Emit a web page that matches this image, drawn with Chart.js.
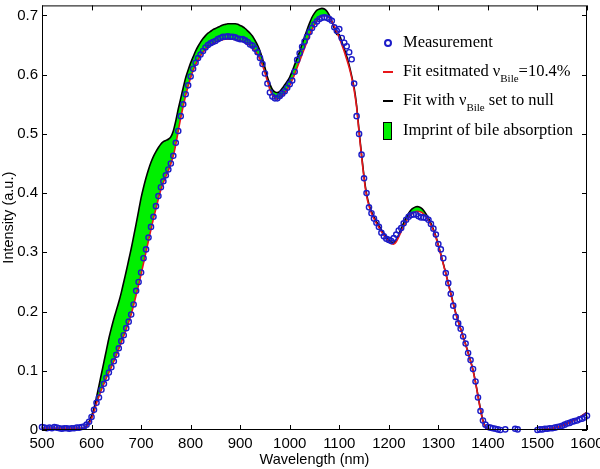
<!DOCTYPE html>
<html><head><meta charset="utf-8">
<script src="https://cdn.jsdelivr.net/npm/chart.js@4"></script>
<style>html,body{margin:0;padding:0;background:#fff}canvas{display:block}</style>
</head><body>
<canvas id="c" width="600" height="469"></canvas>
<script>
// Wavelength grid (nm): 500..1600 every 5 nm (221 samples)
const wavelengthStart = 500;
const wavelengthStep = 5;

// Measured intensity (a.u.), rows of 100 nm
const measurement = [
  0.005,0.004,0.003,0.004,0.003,0.005,0.004,0.003,0.002,0.003,0.003,0.002,0.003,0.003,0.004,0.004,0.005,0.006,0.009,0.014,
  0.022,0.034,0.046,0.055,0.068,0.078,0.088,0.097,0.106,0.116,0.127,0.138,0.150,0.160,0.172,0.183,0.195,0.212,0.235,0.250,
  0.266,0.290,0.305,0.325,0.343,0.360,0.378,0.395,0.410,0.420,0.430,0.440,0.450,0.463,0.485,0.505,0.530,0.550,0.567,0.582,
  0.597,0.610,0.620,0.628,0.634,0.640,0.646,0.650,0.653,0.655,0.657,0.660,0.662,0.664,0.664,0.665,0.664,0.664,0.663,0.661,
  0.660,0.660,0.658,0.655,0.651,0.649,0.644,0.638,0.628,0.618,0.602,0.585,0.570,0.563,0.560,0.560,0.564,0.568,0.572,0.578,
  0.584,0.590,0.605,0.625,0.636,0.647,0.656,0.664,0.672,0.679,0.685,0.690,0.694,0.696,0.697,0.696,0.694,0.691,0.680,0.674,
  0.677,0.662,0.654,0.648,0.638,0.626,0.585,0.530,0.500,0.465,0.425,0.400,0.376,0.366,0.357,0.350,0.343,0.333,0.327,0.323,
  0.321,0.319,0.324,0.330,0.337,0.341,0.349,0.355,0.360,0.363,0.364,0.364,0.361,0.359,0.359,0.358,0.355,0.348,0.340,0.330,
  0.314,0.305,0.290,0.265,0.248,0.230,0.210,0.191,0.180,0.171,0.158,0.146,0.130,0.118,0.103,0.082,0.055,0.032,0.016,0.009,
  0.005,0.004,0.003,0.002,0.001,0.000,null,0.001,null,null,null,0.002,0.001,null,null,null,null,null,null,null,
  0.000,0.001,0.001,0.002,0.002,0.003,0.003,0.004,0.005,0.006,0.007,0.009,0.011,0.012,0.014,0.015,0.016,0.018,0.019,0.021,
  0.024
];

// Fit with estimated bile fraction (red)
const fitEstimated = [
  0.003,0.003,0.003,0.003,0.003,0.003,0.003,0.003,0.003,0.003,0.003,0.003,0.003,0.003,0.003,0.003,0.003,0.003,0.006,0.011,
  0.019,0.031,0.045,0.057,0.068,0.078,0.088,0.097,0.106,0.116,0.126,0.137,0.148,0.159,0.170,0.182,0.195,0.211,0.228,0.245,
  0.263,0.282,0.301,0.320,0.339,0.357,0.374,0.391,0.406,0.418,0.428,0.438,0.449,0.463,0.482,0.505,0.527,0.547,0.565,0.581,
  0.595,0.607,0.617,0.625,0.632,0.638,0.643,0.647,0.650,0.653,0.655,0.657,0.658,0.659,0.660,0.660,0.660,0.660,0.659,0.658,
  0.657,0.656,0.654,0.652,0.649,0.645,0.640,0.634,0.626,0.616,0.603,0.589,0.575,0.566,0.561,0.559,0.560,0.564,0.569,0.575,
  0.582,0.591,0.601,0.612,0.623,0.634,0.645,0.656,0.667,0.676,0.684,0.691,0.696,0.699,0.700,0.699,0.696,0.690,0.682,0.672,
  0.662,0.651,0.639,0.626,0.612,0.595,0.574,0.545,0.502,0.462,0.425,0.396,0.378,0.366,0.357,0.349,0.342,0.335,0.329,0.323,
  0.318,0.315,0.314,0.318,0.326,0.335,0.344,0.352,0.359,0.364,0.367,0.369,0.369,0.368,0.365,0.360,0.354,0.346,0.337,0.325,
  0.311,0.296,0.280,0.264,0.247,0.230,0.213,0.197,0.183,0.170,0.157,0.144,0.130,0.116,0.100,0.080,0.057,0.034,0.015,0.005,
  0.001,0,0,0,0,0,0,0,0,0,0,0,0,0,0,0,0,0,0,0,
  0.000,0.000,0.001,0.001,0.002,0.002,0.003,0.004,0.005,0.006,0.008,0.009,0.011,0.013,0.015,0.017,0.019,0.022,0.024,0.027,
  0.030
];

// Fit with bile fraction set to null (black)
const fitNull = [
  0.003,0.003,0.003,0.003,0.003,0.003,0.003,0.003,0.003,0.003,0.003,0.003,0.003,0.003,0.003,0.003,0.003,0.003,0.008,0.014,
  0.024,0.037,0.055,0.075,0.095,0.115,0.135,0.155,0.172,0.188,0.202,0.216,0.232,0.250,0.268,0.287,0.306,0.327,0.348,0.370,
  0.392,0.410,0.426,0.440,0.452,0.462,0.470,0.477,0.483,0.487,0.489,0.491,0.495,0.505,0.522,0.542,0.560,0.578,0.595,0.608,
  0.620,0.630,0.640,0.648,0.655,0.661,0.666,0.670,0.673,0.676,0.678,0.680,0.682,0.684,0.685,0.686,0.686,0.686,0.686,0.685,
  0.683,0.681,0.678,0.674,0.670,0.665,0.658,0.650,0.640,0.627,0.612,0.596,0.584,0.575,0.571,0.570,0.572,0.577,0.583,0.589,
  0.596,0.606,0.617,0.628,0.639,0.652,0.664,0.676,0.687,0.697,0.704,0.709,0.711,0.712,0.711,0.707,0.700,0.690,0.678,0.668,
  0.668,0.656,0.644,0.631,0.616,0.598,0.578,0.548,0.505,0.465,0.428,0.399,0.381,0.369,0.360,0.352,0.345,0.338,0.332,0.326,
  0.321,0.318,0.317,0.321,0.330,0.340,0.350,0.359,0.366,0.372,0.375,0.377,0.377,0.375,0.371,0.365,0.358,0.349,0.339,0.327,
  0.312,0.297,0.281,0.265,0.248,0.231,0.214,0.198,0.184,0.171,0.158,0.145,0.131,0.117,0.101,0.081,0.058,0.035,0.016,0.006,
  0.001,0,0,0,0,0,0,0,0,0,0,0,0,0,0,0,0,0,0,0,
  0.000,0.000,0.001,0.001,0.002,0.002,0.003,0.004,0.005,0.006,0.008,0.009,0.011,0.013,0.015,0.017,0.019,0.022,0.024,0.027,
  0.030
];

const xTickValues = [500,600,700,800,900,1000,1100,1200,1300,1400,1500,1600];
const yTickValues = [0,0.1,0.2,0.3,0.4,0.5,0.6,0.7];
const xTitle = 'Wavelength (nm)';
const yTitle = 'Intensity (a.u.)';
const legendItems = [
  {parts:[['Measurement','n']]},
  {parts:[['Fit esitmated \u03bd','n'],['Bile','s'],['=10.4%','n']]},
  {parts:[['Fit with \u03bd','n'],['Bile','s'],[' set to null','n']]},
  {parts:[['Imprint of bile absorption','n']]}
];

const wavelengths = measurement.map((_, i) => wavelengthStart + i * wavelengthStep);
const pts = arr => arr.map((v, i) => ({x: wavelengths[i], y: v}));

const BLUE = '#1c1cc8', RED = '#e8161a', GREEN = '#00f000';

const framePlugin = {
  id: 'frame',
  afterDraw(chart) {
    const {ctx, chartArea: a, scales: {x, y}} = chart;
    ctx.save();
    ctx.strokeStyle = '#000';
    ctx.lineWidth = 1;
    ctx.strokeRect(a.left + 0.5, a.top + 0.5, a.right - a.left - 1, a.bottom - a.top - 1);
    const tl = 5;
    ctx.beginPath();
    x.ticks.forEach(t => {
      const px = Math.round(x.getPixelForValue(t.value)) + 0.5;
      ctx.moveTo(px, a.bottom); ctx.lineTo(px, a.bottom - tl);
      ctx.moveTo(px, a.top); ctx.lineTo(px, a.top + tl);
    });
    y.ticks.forEach(t => {
      const py = Math.round(y.getPixelForValue(t.value)) + 0.5;
      ctx.moveTo(a.left, py); ctx.lineTo(a.left + tl, py);
      ctx.moveTo(a.right, py); ctx.lineTo(a.right - tl, py);
    });
    ctx.stroke();

    // legend
    const mainFont = '16.5px "Liberation Serif", "Times New Roman", serif';
    const subFont = '11px "Liberation Serif", "Times New Roman", serif';
    const rowsY = [43, 72, 101, 131];
    const textX = 403;
    ctx.textBaseline = 'middle';
    ctx.textAlign = 'left';
    ctx.fillStyle = '#000';
    legendItems.forEach((item, i) => {
      const yy = rowsY[i];
      let cx = textX;
      item.parts.forEach(([txt, kind]) => {
        if (kind === 's') {
          ctx.font = subFont;
          ctx.fillText(txt, cx, yy + 7);
        } else {
          ctx.font = mainFont;
          ctx.fillText(txt, cx, yy);
        }
        cx += ctx.measureText(txt).width;
      });
    });
    // legend symbols
    ctx.lineWidth = 2;
    ctx.strokeStyle = BLUE;
    ctx.beginPath(); ctx.arc(388, rowsY[0], 3, 0, Math.PI * 2); ctx.stroke();
    ctx.strokeStyle = RED;
    ctx.beginPath(); ctx.moveTo(383, rowsY[1]); ctx.lineTo(393, rowsY[1]); ctx.stroke();
    ctx.strokeStyle = '#000';
    ctx.beginPath(); ctx.moveTo(383, rowsY[2]); ctx.lineTo(393, rowsY[2]); ctx.stroke();
    ctx.fillStyle = GREEN;
    ctx.fillRect(384, rowsY[3] - 8, 7, 16);
    ctx.lineWidth = 1;
    ctx.strokeRect(383.5, rowsY[3] - 8.5, 8, 17);
    ctx.restore();
  }
};

new Chart(document.getElementById('c'), {
  type: 'line',
  data: {
    datasets: [
      {
        label: 'Measurement',
        data: pts(measurement),
        showLine: false,
        pointStyle: 'circle',
        pointRadius: 2.6,
        pointBorderWidth: 1.4,
        pointBorderColor: BLUE,
        pointBackgroundColor: 'rgba(255,255,255,0)',
        borderColor: BLUE,
        order: 0,
        clip: 5
      },
      {
        label: 'Fit esitmated',
        data: pts(fitEstimated),
        borderColor: RED,
        borderWidth: 1.6,
        pointRadius: 0,
        tension: 0.2,
        fill: false,
        order: 1
      },
      {
        label: 'Fit with null',
        data: pts(fitNull),
        borderColor: '#000',
        borderWidth: 1.6,
        pointRadius: 0,
        tension: 0.2,
        fill: {target: 1, above: GREEN, below: GREEN},
        backgroundColor: GREEN,
        order: 2
      }
    ]
  },
  options: {
    responsive: false,
    devicePixelRatio: 1,
    animation: false,
    layout: {padding: {left: 0, right: 13, top: 2, bottom: 0}},
    plugins: {legend: {display: false}, tooltip: {enabled: false}},
    scales: {
      x: {
        type: 'linear',
        min: 500, max: 1600,
        afterBuildTicks: s => { s.ticks = xTickValues.map(v => ({value: v})); },
        afterFit: s => { s.height = 39; s.paddingLeft = 0; s.paddingRight = 0; },
        grid: {display: false, drawTicks: false},
        border: {display: false},
        ticks: {
          padding: 5,
          color: '#000',
          maxRotation: 0,
          autoSkip: false,
          font: {family: '"Liberation Sans", Arial, sans-serif', size: 15},
          callback: v => String(v)
        },
        title: {
          display: true, text: xTitle, color: '#000',
          padding: {top: 0, bottom: 0},
          font: {family: '"Liberation Sans", Arial, sans-serif', size: 14.5}
        }
      },
      y: {
        type: 'linear',
        min: 0, max: 0.717,
        afterBuildTicks: s => { s.ticks = yTickValues.map(v => ({value: v})); },
        afterFit: s => { s.width = 42; s.paddingTop = 0; s.paddingBottom = 0; },
        grid: {display: false, drawTicks: false},
        border: {display: false},
        ticks: {
          padding: 4,
          color: '#000',
          autoSkip: false,
          font: {family: '"Liberation Sans", Arial, sans-serif', size: 15},
          callback: v => String(Math.round(v * 10) / 10)
        },
        title: {
          display: true, text: yTitle, color: '#000',
          padding: {top: 0, bottom: 0},
          font: {family: '"Liberation Sans", Arial, sans-serif', size: 14.5}
        }
      }
    }
  },
  plugins: [framePlugin]
});
</script>
</body></html>
